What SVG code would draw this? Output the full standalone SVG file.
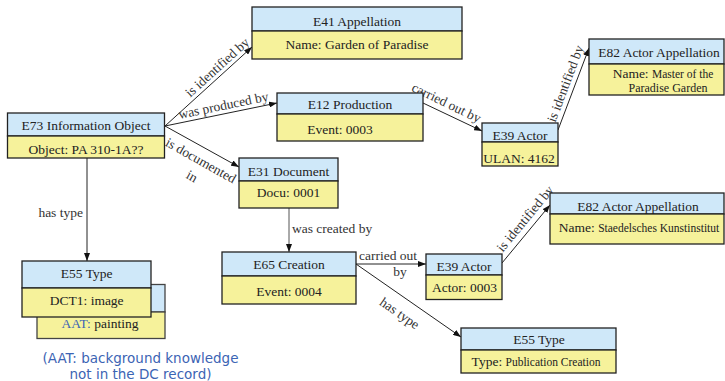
<svg xmlns="http://www.w3.org/2000/svg" width="725" height="381" viewBox="0 0 725 381">
  <style>
    .hd { fill: #cfe8f9; stroke: #222; stroke-width: 1.3; }
    .bd { fill: #f6f29b; stroke: #222; stroke-width: 1.3; }
    .t { font-family: "Liberation Serif", "Times New Roman", serif; font-size: 13.5px; fill: #222; text-anchor: middle; }
    .s { font-size: 11.5px; }
    .lbl { font-family: "Liberation Serif", "Times New Roman", serif; font-size: 13.5px; fill: #333; text-anchor: middle; }
    .ln { fill: none; stroke: #222; stroke-width: 1; marker-end: url(#arr); }
    .note { font-family: "DejaVu Sans", "Noto Sans", sans-serif; font-size: 13.5px; fill: #3c64b4; text-anchor: middle; }
    .aat { fill: #3c64b4; }
  </style>
  <defs>
    <marker id="arr" markerUnits="userSpaceOnUse" markerWidth="8" markerHeight="6" refX="8" refY="3" orient="auto">
      <path d="M0,0 L8,3 L0,6 z" fill="#111"/>
    </marker>
  </defs>
  <rect width="725" height="381" fill="#fff"/>

  <!-- connectors -->
  <g id="connectors">
    <line class="ln" x1="165" y1="126" x2="252" y2="47"/>
    <line class="ln" x1="165" y1="126" x2="277" y2="103"/>
    <line class="ln" x1="165" y1="126" x2="239" y2="167"/>
    <line class="ln" x1="423" y1="103" x2="482" y2="131"/>
    <line class="ln" x1="558" y1="130" x2="589" y2="48"/>
    <line class="ln" x1="87" y1="158" x2="87" y2="261"/>
    <line class="ln" x1="289" y1="208" x2="289" y2="252" style="stroke:#555"/>
    <line class="ln" x1="356" y1="264" x2="426" y2="264"/>
    <line class="ln" x1="502" y1="263" x2="550" y2="205"/>
    <line class="ln" x1="356" y1="264" x2="461" y2="337"/>

    <text class="lbl" transform="translate(223,73.5) rotate(-42.2)" y="-4">is identified by</text>
    <text class="lbl" transform="translate(225,113.7) rotate(-11.6)" y="-4">was produced by</text>
    <g transform="translate(200,145.7) rotate(29.3)">
      <text class="lbl" x="8" y="17">is documented</text>
      <text class="lbl" x="8" y="35">in</text>
    </g>
    <text class="lbl" transform="translate(423,103) rotate(25.8)" x="21" y="-6">carried out by</text>
    <text class="lbl" transform="translate(558,130) rotate(-69.3)" x="46" y="-5">is identified by</text>
    <text class="lbl" x="83" y="217" style="text-anchor:end">has type</text>
    <text class="lbl" x="292" y="233" style="text-anchor:start">was created by</text>
    <text class="lbl" x="388" y="260">carried out</text>
    <text class="lbl" x="400" y="276">by</text>
    <text class="lbl" transform="translate(502,263) rotate(-50.4)" x="49" y="-6">is identified by</text>
    <text class="lbl" transform="translate(356,264) rotate(34.8)" x="64" y="20">has type</text>
  </g>

  <!-- nodes -->
  <g id="e73">
    <rect class="hd" x="7.5" y="113" width="157" height="23"/>
    <rect class="bd" x="7.5" y="136" width="157" height="22"/>
    <text class="t" x="86" y="130">E73 Information Object</text>
    <text class="t" x="86" y="154">Object: PA 310-1A??</text>
  </g>

  <g id="e41">
    <rect class="hd" x="252" y="7" width="210" height="24"/>
    <rect class="bd" x="252" y="31" width="210" height="28"/>
    <text class="t" x="357" y="25.5">E41 Appellation</text>
    <text class="t" x="357" y="48.5">Name: Garden of Paradise</text>
  </g>

  <g id="e12">
    <rect class="hd" x="277" y="93" width="146" height="21"/>
    <rect class="bd" x="277" y="114" width="146" height="27"/>
    <text class="t" x="350" y="109.3">E12 Production</text>
    <text class="t" x="340" y="134.3">Event: 0003</text>
  </g>

  <g id="e39a">
    <rect class="hd" x="482" y="123" width="76" height="19"/>
    <rect class="bd" x="482" y="142" width="76" height="24"/>
    <text class="t" x="520" y="140">E39 Actor</text>
    <text class="t" x="519" y="163.3">ULAN: 4162</text>
  </g>

  <g id="e82a">
    <rect class="hd" x="589" y="39" width="135" height="25"/>
    <rect class="bd" x="589" y="64" width="135" height="31"/>
    <text class="t" x="659" y="56.7">E82 Actor Appellation</text>
    <text class="t" x="663" y="77.7">Name: <tspan class="s">Master of the</tspan></text>
    <text class="t" x="668" y="92.3" style="font-size:12px">Paradise Garden</text>
  </g>

  <g id="e31">
    <rect class="hd" x="239" y="158" width="99" height="23"/>
    <rect class="bd" x="239" y="181" width="99" height="27"/>
    <text class="t" x="288.5" y="176">E31 Document</text>
    <text class="t" x="288.5" y="197.3">Docu: 0001</text>
  </g>

  <g id="e65">
    <rect class="hd" x="222" y="252" width="134" height="24"/>
    <rect class="bd" x="222" y="276" width="134" height="28"/>
    <text class="t" x="289" y="269.3">E65 Creation</text>
    <text class="t" x="289" y="295.7">Event: 0004</text>
  </g>

  <g id="e39b">
    <rect class="hd" x="426" y="254" width="76" height="21"/>
    <rect class="bd" x="426" y="275" width="76" height="24.5"/>
    <text class="t" x="464" y="270.7">E39 Actor</text>
    <text class="t" x="464.5" y="291.7">Actor: 0003</text>
  </g>

  <g id="e82b">
    <rect class="hd" x="550" y="193" width="174" height="21"/>
    <rect class="bd" x="550" y="214" width="174" height="30"/>
    <text class="t" x="638" y="210.7">E82 Actor Appellation</text>
    <text class="t" x="639" y="231.7">Name: <tspan class="s">Staedelsches Kunstinstitut</tspan></text>
  </g>

  <g id="e55b">
    <rect class="hd" x="461" y="328" width="155" height="22"/>
    <rect class="bd" x="461" y="350" width="155" height="23"/>
    <text class="t" x="539" y="344">E55 Type</text>
    <text class="t" x="536" y="366">Type: <tspan class="s">Publication Creation</tspan></text>
  </g>

  <g id="e55a">
    <!-- AAT type card behind the DCT1 card -->
    <rect class="hd" x="37" y="284.5" width="128" height="27.5" style="stroke:#444"/>
    <rect class="bd" x="37" y="312" width="128" height="26.5" style="stroke:#444"/>
    <text class="t" x="100" y="328.3"><tspan class="aat">AAT:</tspan> painting</text>
    <rect class="hd" x="22" y="261" width="129" height="27"/>
    <rect class="bd" x="22" y="288" width="129" height="29"/>
    <text class="t" x="86.7" y="278.3">E55 Type</text>
    <text class="t" x="86.7" y="305">DCT1: image</text>
  </g>

  <g id="note">
    <text class="note" x="140.5" y="363">(AAT: background knowledge</text>
    <text class="note" x="140.5" y="378.5">not in the DC record)</text>
  </g>
</svg>
